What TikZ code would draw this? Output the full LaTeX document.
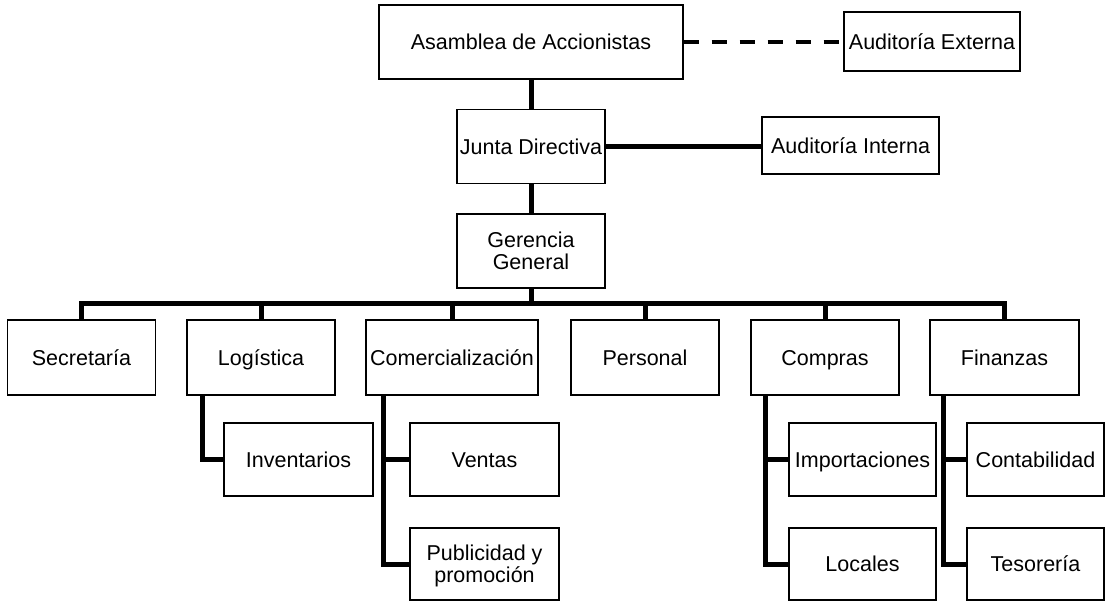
\documentclass[tikz,border=0pt]{standalone}
\usepackage{fontspec}
\setmainfont{Liberation Sans}
\usetikzlibrary{positioning}

\begin{document}
\begin{tikzpicture}[
    x=1pt, y=-1pt,
    box/.style={rectangle, draw, line width=1.2pt, minimum width=148pt, minimum height=74pt, align=center, inner sep=1pt,
        font=\fontsize{21.5}{22}\selectfont, text depth=1.5pt, execute at begin node=\rule{0pt}{17pt}},
    link/.style={line width=5pt},
]
    \useasboundingbox (0,0) rectangle (1105,601);
    \node[box, minimum width=304pt] (asamblea) at (531,42) {Asamblea de Accionistas};
    \node[box, minimum width=176pt, minimum height=59pt] (externa) at (932,41.5) {Auditoría Externa};
    \node[box] (junta) at (531,146.5) {Junta Directiva};
    \node[box, minimum width=177pt, minimum height=57pt] (interna) at (850.5,145.5) {Auditoría Interna};
    \node[box] (gerencia) at (531,251) {Gerencia\\General};

    \node[box, minimum height=75pt] (secretaria) at (81.5,357.5) {Secretaría};
    \node[box, minimum height=75pt] (logistica) at (261,357.5) {Logística};
    \node[box, minimum height=75pt, minimum width=172pt] (comercial) at (452,357.5) {Comercialización};
    \node[box, minimum height=75pt] (personal) at (645,357.5) {Personal};
    \node[box, minimum height=75pt] (compras) at (825,357.5) {Compras};
    \node[box, minimum height=75pt, minimum width=149pt] (finanzas) at (1004.5,357.5) {Finanzas};

    \node[box, minimum height=73pt, minimum width=149pt] (inventarios) at (298.5,459.5) {Inventarios};
    \node[box, minimum height=73pt, minimum width=149pt] (ventas) at (484.5,459.5) {Ventas};
    \node[box, minimum height=72pt, minimum width=149pt] (publicidad) at (484.5,564) {Publicidad y\\promoción};
    \node[box, minimum height=73pt, minimum width=147pt] (importaciones) at (862.5,459.5) {Importaciones};
    \node[box, minimum height=72pt, minimum width=147pt] (locales) at (862.5,564) {Locales};
    \node[box, minimum height=73pt, minimum width=137pt] (contabilidad) at (1035.5,459.5) {Contabilidad};
    \node[box, minimum height=72pt, minimum width=137pt] (tesoreria) at (1035.5,564) {Tesorería};

    % top of the chart
    \draw[line width=4pt, dash pattern=on 15pt off 13pt] (asamblea.east) -- (asamblea.east -| externa.west);
    \draw[link] (asamblea.south) -- (junta.north);
    \draw[link] (junta.east) -- (junta.east -| interna.west);
    \draw[link] (junta.south) -- (gerencia.north);

    % departments
    \coordinate (bus) at (0,304);
    \draw[link] (gerencia.south) -- (gerencia.south |- bus);
    \draw[link] (secretaria.north) |- (finanzas.north |- bus) -- (finanzas.north);
    \foreach \n in {logistica,comercial,personal,compras}
        \draw[link] (\n.north) -- (\n.north |- bus);

    % sections
    \draw[link] ([xshift=16pt]logistica.south west) |- (inventarios.west);
    \draw[link] ([xshift=18pt]comercial.south west) |- (publicidad.west);
    \draw[link] ([xshift=18pt]comercial.south west |- ventas.west) -- (ventas.west);
    \draw[link] ([xshift=15pt]compras.south west) |- (locales.west);
    \draw[link] ([xshift=15pt]compras.south west |- importaciones.west) -- (importaciones.west);
    \draw[link] ([xshift=14pt]finanzas.south west) |- (tesoreria.west);
    \draw[link] ([xshift=14pt]finanzas.south west |- contabilidad.west) -- (contabilidad.west);
\end{tikzpicture}
\end{document}
